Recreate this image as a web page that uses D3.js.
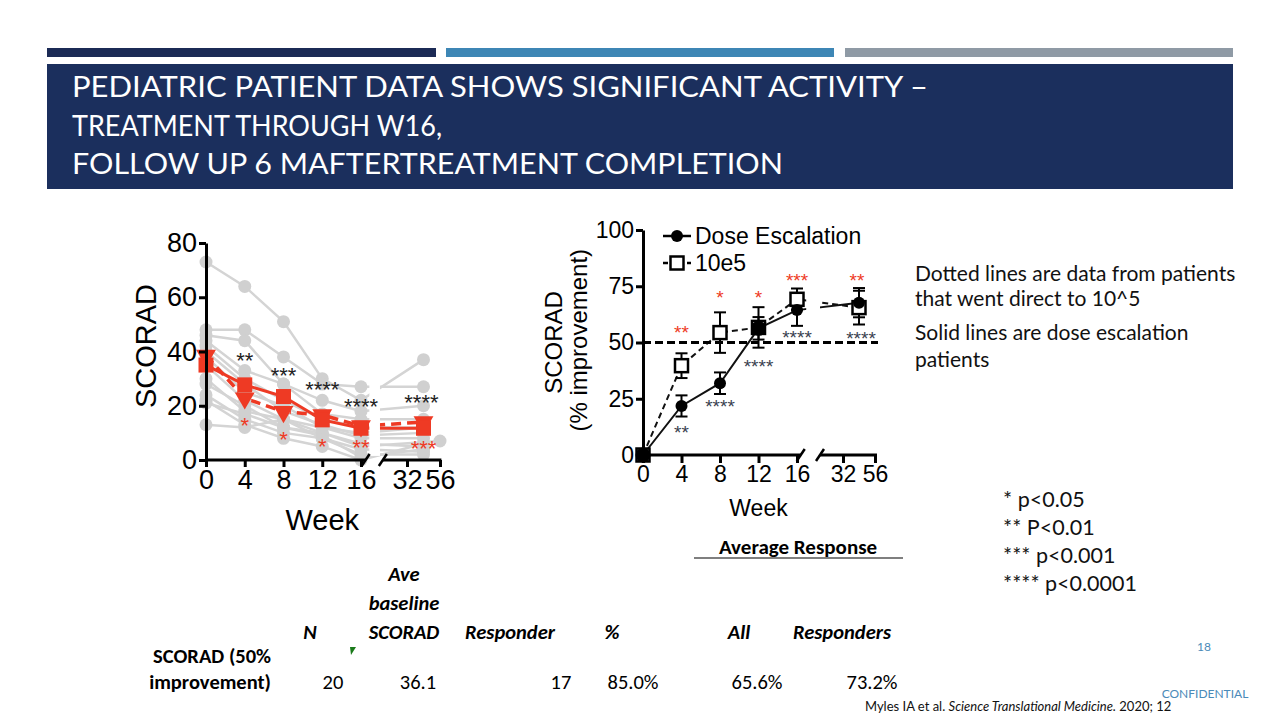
<!DOCTYPE html>
<html><head><meta charset="utf-8">
<script src="https://cdn.jsdelivr.net/npm/d3@7"></script>
<style>body{margin:0;background:#fff}svg{display:block}</style>
</head><body>
<svg id="c" width="1280" height="720"></svg>
<script>
// ---------- DATA ----------
const titleLines = ["PEDIATRIC PATIENT DATA SHOWS SIGNIFICANT ACTIVITY –","TREATMENT THROUGH W16,","FOLLOW UP 6 MAFTERTREATMENT COMPLETION"];
const weeks = [0, 4, 8, 12, 16, 44];          // 44 = follow-up position between 32 and 56
const xTicksPre = [0, 4, 8, 12, 16];
const xTicksPost = [32, 56];
const yTicksLeft = [0, 20, 40, 60, 80];
const yTicksRight = [0, 25, 50, 75, 100];

// individual patient SCORAD (grey)
const patients = [
  [73, 64, 51, 30, 22, 37],
  [48, 48, 38, 28, 27, 27],
  [46, 44, 28, 22, 18, 20],
  [44, 33, 28, 17, 15, 15],
  [42, 30, 22, 15, 12, 12],
  [40, 28, 18, 13, 9, 10],
  [38, 25, 20, 12, 8, 8],
  [35, 22, 15, 10, 6, 5],
  [30, 18, 15, 8, 4, 3],
  [28, 20, 12, 10, 5, 7],
  [24, 15, 10, 8, 2, 2],
  [22, 13, 8, 5, 0, 6],
  [21, 17, 12, 9, 1, 4],
  [13, 12, 15, 12, 10, 12]
];
const patientFollowWeek = [44, 44, 44, 44, 44, 44, 44, 44, 44, 56, 44, 44, 44, 44];
const meanDoseEsc = [35, 27.7, 23.4, 14.8, 11.7, 11.7];   // red squares, solid
const meanDirect = [38.5, 22.8, 17.8, 16.6, 12.5, 14];    // red triangles, dashed
const sigLeftBlack = ["**", "***", "****", "****", "****"];
const sigLeftBlackAt = [38.4, 32.8, 27.7, 21.4, 22.9];
const sigLeftRed = ["*", "*", "*", "**", "***"];
const sigLeftRedAt = [14.4, 9.2, 6.6, 6.3, 5.9];
const sigWeeks = [4, 8, 12, 16, 44];

// % improvement
const improveDoseEsc = [0, 21.8, 31.9, 56.3, 64.4, 67.7];
const errDoseEsc = [0, 4.7, 4.8, 5, 7, 6.5];
const improveDirect = [0, 39.7, 54.4, 56.7, 69.2, 65.5];
const errDirect = [0, 5.5, 9, 9, 4.8, 7.5];
const sigRightRed = ["**", "*", "*", "***", "**"];
const sigRightRedAt = [56.4, 72, 72, 79.6, 79.6];
const sigRightDark = ["**", "****", "****", "****", "****"];
const sigRightDarkAt = [12, 23.6, 41.3, 54.2, 53.8];
const legendNames = ["Dose Escalation", "10e5"];

const noteLines = ["Dotted lines are data from patients", "that went direct to 10^5", "Solid lines are dose escalation", "patients"];
const pLines = ["* p<0.05", "** P<0.01", "*** p<0.001", "**** p<0.0001"];

const tableHeaders = ["N", "Ave|baseline|SCORAD", "Responder", "%", "All", "Responders"];
const tableRowLabel = ["SCORAD (50%", "improvement)"];
const tableValues = ["20", "36.1", "17", "85.0%", "65.6%", "73.2%"];

// ---------- DRAW ----------
const svg = d3.select("#c");
const RED = "#ee3a24";
const ARIAL = "'Liberation Sans', Arial, sans-serif";
const GILL = "Lato, 'Open Sans', sans-serif";

// header bars
[["#1b2a55", 47, 436], ["#3d86b5", 446, 834], ["#8f9aa5", 845, 1233]].forEach(b =>
  svg.append("rect").attr("x", b[1]).attr("y", 48).attr("width", b[2] - b[1]).attr("height", 9).attr("fill", b[0]));
svg.append("rect").attr("x", 47).attr("y", 64).attr("width", 1186).attr("height", 125).attr("fill", "#1b2f5d");
const titleW = [856, 370, 711];
titleLines.forEach((t, i) => svg.append("text").attr("x", 72).attr("y", 97 + i * 38.5)
  .attr("font-family", GILL).attr("font-size", 28).attr("fill", "#fff")
  .attr("textLength", titleW[i]).attr("lengthAdjust", "spacingAndGlyphs").text(t));

// ---------- LEFT CHART ----------
const xL = d3.scaleLinear().domain([0, 16, 32, 56]).range([206, 361, 407, 440]);
const yL = d3.scaleLinear().domain([0, 80]).range([460, 243]);
const gL = svg.append("g");
const lineL = d3.line().x(d => xL(d[0])).y(d => yL(d[1]));

patients.forEach((p, i) => {
  const pts = p.map((v, j) => [j === 5 ? patientFollowWeek[i] : weeks[j], v]);
  gL.append("path").attr("d", lineL(pts)).attr("fill", "none").attr("stroke", "#d4d4d4").attr("stroke-width", 2.5);
});
const redSolidPts = meanDoseEsc.map((v, j) => [weeks[j], v]);
const redDashPts = meanDirect.map((v, j) => [weeks[j], v]);
gL.append("path").attr("d", lineL(redDashPts)).attr("fill", "none").attr("stroke", RED).attr("stroke-width", 3.5).attr("stroke-dasharray", "10,6");
gL.append("path").attr("d", lineL(redSolidPts)).attr("fill", "none").attr("stroke", RED).attr("stroke-width", 3);
// break gap
gL.append("rect").attr("x", xL(18.9)).attr("y", yL(80)).attr("width", xL(22.6) - xL(18.9)).attr("height", yL(1.5) - yL(80)).attr("fill", "#fff");

patients.forEach((p, i) => {
  p.forEach((v, j) => gL.append("circle").attr("cx", xL(j === 5 ? patientFollowWeek[i] : weeks[j])).attr("cy", yL(v)).attr("r", 6.5).attr("fill", "#d0d0d0"));
});
redDashPts.forEach(d => gL.append("path").attr("d", d3.symbol(d3.symbolTriangle, 170)())
  .attr("transform", `translate(${xL(d[0])},${yL(d[1])}) rotate(180)`).attr("fill", RED));
redSolidPts.forEach(d => gL.append("rect").attr("x", xL(d[0]) - 7.5).attr("y", yL(d[1]) - 7.5).attr("width", 15).attr("height", 15).attr("fill", RED));

// axes left
const axL = gL.append("g").attr("transform", `translate(${xL(0)},0)`)
  .call(d3.axisLeft(yL).tickValues(yTicksLeft).tickSize(7).tickSizeOuter(0).tickPadding(2));
axL.select(".domain").attr("stroke-width", 3);
axL.selectAll(".tick line").attr("stroke-width", 3);
axL.selectAll(".tick text").attr("font-family", ARIAL).attr("font-size", 27).attr("fill", "#000");
function xAxisPiece(g, sc, y, ticks, a, b, fs, tl) {
  const ax = g.append("g").attr("transform", `translate(0,${y})`).call(d3.axisBottom(sc).tickValues(ticks).tickSize(tl).tickSizeOuter(0).tickPadding(3));
  ax.select(".domain").remove();
  ax.selectAll(".tick line").attr("stroke-width", 3);
  ax.selectAll(".tick text").attr("font-family", ARIAL).attr("font-size", fs).attr("fill", "#000");
  g.append("line").attr("x1", sc(a)).attr("x2", sc(b)).attr("y1", y).attr("y2", y).attr("stroke", "#000").attr("stroke-width", 3);
}
xAxisPiece(gL, xL, yL(0), xTicksPre, 0, 17.6, 27, 7);
xAxisPiece(gL, xL, yL(0), xTicksPost, 23.6, 57, 27, 7);
[[17.6], [23.6]].forEach(b => gL.append("line").attr("x1", xL(b[0]) - 4).attr("x2", xL(b[0]) + 4)
  .attr("y1", yL(0) + 6).attr("y2", yL(0) - 6).attr("stroke", "#000").attr("stroke-width", 2.5));
svg.append("text").attr("transform", `translate(${156},${yL(42)}) rotate(-90)`).attr("text-anchor", "middle")
  .attr("font-family", ARIAL).attr("font-size", 29).text("SCORAD");
svg.append("text").attr("x", xL(12)).attr("y", 530).attr("text-anchor", "middle").attr("font-family", ARIAL).attr("font-size", 29).text("Week");
sigLeftBlack.forEach((s, i) => gL.append("text").attr("x", xL(sigWeeks[i] === 44 ? 42.5 : sigWeeks[i])).attr("y", yL(sigLeftBlackAt[i]) + 12)
  .attr("text-anchor", "middle").attr("font-family", ARIAL).attr("font-size", 22).attr("fill", "#222").text(s));
sigLeftRed.forEach((s, i) => gL.append("text").attr("x", xL(sigWeeks[i])).attr("y", yL(sigLeftRedAt[i]) + 12)
  .attr("text-anchor", "middle").attr("font-family", ARIAL).attr("font-size", 22).attr("fill", RED).text(s));

// ---------- RIGHT CHART ----------
const xR = d3.scaleLinear().domain([0, 16, 32, 56]).range([643, 797, 843, 875]);
const yR = d3.scaleLinear().domain([0, 100]).range([455, 230]);
const gR = svg.append("g");
const lineR = d3.line().x(d => xR(d[0])).y(d => yR(d[1]));
const dePts = improveDoseEsc.map((v, j) => [weeks[j], v, errDoseEsc[j]]);
const e5Pts = improveDirect.map((v, j) => [weeks[j], v, errDirect[j]]);
gR.append("path").attr("d", lineR(e5Pts)).attr("fill", "none").attr("stroke", "#111").attr("stroke-width", 2).attr("stroke-dasharray", "6,4");
gR.append("path").attr("d", lineR(dePts)).attr("fill", "none").attr("stroke", "#111").attr("stroke-width", 2);
gR.append("rect").attr("x", xR(19.2)).attr("y", yR(100)).attr("width", xR(24) - xR(19.2)).attr("height", yR(2) - yR(100)).attr("fill", "#fff");
gR.append("line").attr("x1", xR(0)).attr("x2", xR(56) + 3).attr("y1", yR(50)).attr("y2", yR(50))
  .attr("stroke", "#000").attr("stroke-width", 3).attr("stroke-dasharray", "8,4");
[e5Pts, dePts].forEach(ps => ps.forEach(d => {
  if (!d[2]) return;
  const x = xR(d[0]);
  gR.append("line").attr("x1", x).attr("x2", x).attr("y1", yR(d[1] - d[2])).attr("y2", yR(d[1] + d[2])).attr("stroke", "#000").attr("stroke-width", 2);
  [d[1] - d[2], d[1] + d[2]].forEach(v => gR.append("line").attr("x1", x - 6).attr("x2", x + 6).attr("y1", yR(v)).attr("y2", yR(v)).attr("stroke", "#000").attr("stroke-width", 2));
}));
e5Pts.forEach(d => gR.append("rect").attr("x", xR(d[0]) - 6.5).attr("y", yR(d[1]) - 6.5).attr("width", 13).attr("height", 13)
  .attr("fill", "#fff").attr("stroke", "#000").attr("stroke-width", 2.5));
dePts.forEach(d => gR.append("circle").attr("cx", xR(d[0])).attr("cy", yR(d[1])).attr("r", d[0] === 0 || d[0] === 12 ? 7.5 : 6).attr("fill", "#000"));

const axR = gR.append("g").attr("transform", `translate(${xR(0)},0)`)
  .call(d3.axisLeft(yR).tickValues(yTicksRight).tickSize(7).tickSizeOuter(0).tickPadding(2));
axR.select(".domain").attr("stroke-width", 3);
axR.selectAll(".tick line").attr("stroke-width", 3);
axR.selectAll(".tick text").attr("font-family", ARIAL).attr("font-size", 23).attr("fill", "#000");
xAxisPiece(gR, xR, yR(0), xTicksPre, 0, 17.3, 23, 8);
xAxisPiece(gR, xR, yR(0), xTicksPost, 24, 57.5, 23, 8);
[[17.3], [24]].forEach(b => gR.append("line").attr("x1", xR(b[0]) - 4).attr("x2", xR(b[0]) + 4)
  .attr("y1", yR(0) + 6).attr("y2", yR(0) - 6).attr("stroke", "#000").attr("stroke-width", 2.5));
svg.append("text").attr("transform", `translate(${562},${yR(50)}) rotate(-90)`).attr("text-anchor", "middle")
  .attr("font-family", ARIAL).attr("font-size", 24).text("SCORAD");
svg.append("text").attr("transform", `translate(${587},${yR(51)}) rotate(-90)`).attr("text-anchor", "middle")
  .attr("font-family", ARIAL).attr("font-size", 24).text("(% improvement)");
svg.append("text").attr("x", xR(12)).attr("y", 516).attr("text-anchor", "middle").attr("font-family", ARIAL).attr("font-size", 23).text("Week");
sigRightRed.forEach((s, i) => gR.append("text").attr("x", xR(sigWeeks[i] === 44 ? 42.5 : sigWeeks[i])).attr("y", yR(sigRightRedAt[i]) + 11)
  .attr("text-anchor", "middle").attr("font-family", ARIAL).attr("font-size", 19).attr("fill", RED).text(s));
sigRightDark.forEach((s, i) => gR.append("text").attr("x", xR(sigWeeks[i] === 44 ? 45.5 : sigWeeks[i])).attr("y", yR(sigRightDarkAt[i]) + 11)
  .attr("text-anchor", "middle").attr("font-family", ARIAL).attr("font-size", 19).attr("fill", "#3a3f4f").text(s));
// legend
legendNames.forEach((n, i) => {
  const y = 236 + i * 27;
  gR.append("line").attr("x1", 663).attr("x2", 691).attr("y1", y).attr("y2", y).attr("stroke", "#000").attr("stroke-width", 2.5)
    .attr("stroke-dasharray", i ? "5,3" : null);
  if (i === 0) gR.append("circle").attr("cx", 677).attr("cy", y).attr("r", 6).attr("fill", "#000");
  else gR.append("rect").attr("x", 670.5).attr("y", y - 6.5).attr("width", 13).attr("height", 13).attr("fill", "#fff").attr("stroke", "#000").attr("stroke-width", 2.5);
  gR.append("text").attr("x", 695).attr("y", y + 8).attr("font-family", ARIAL).attr("font-size", 23).text(n);
});

// ---------- NOTES ----------
const noteY = [281, 306, 340, 367];
noteLines.forEach((t, i) => svg.append("text").attr("x", 915).attr("y", noteY[i]).attr("font-family", GILL).attr("font-size", 21).attr("fill", "#111").text(t));
pLines.forEach((t, i) => svg.append("text").attr("x", 1003).attr("y", 507 + i * 28).attr("font-family", GILL).attr("font-size", 21.5).attr("fill", "#111").text(t));

// ---------- TABLE ----------
const TF = "Carlito, Lato, sans-serif";
svg.append("text").attr("x", 798).attr("y", 554).attr("text-anchor", "middle").attr("font-family", TF).attr("font-weight", 700).attr("font-size", 21).text("Average Response");
svg.append("line").attr("x1", 694).attr("x2", 903).attr("y1", 558).attr("y2", 558).attr("stroke", "#000").attr("stroke-width", 1.2);
const headX = [310, 404, 510, 612, 739, 842];
tableHeaders.forEach((h, i) => {
  const parts = h.split("|");
  parts.forEach((p, k) => svg.append("text").attr("x", headX[i]).attr("y", 639 - (parts.length - 1 - k) * 29)
    .attr("text-anchor", "middle").attr("font-family", TF).attr("font-style", "italic").attr("font-weight", 700).attr("font-size", 20.5).text(p));
});
tableRowLabel.forEach((t, i) => svg.append("text").attr("x", 271).attr("y", 663 + i * 26).attr("text-anchor", "end")
  .attr("font-family", TF).attr("font-weight", 700).attr("font-size", 20.5).text(t));
const valX = [333, 418, 561, 633, 757, 872];
tableValues.forEach((v, i) => svg.append("text").attr("x", valX[i]).attr("y", 689).attr("text-anchor", "middle")
  .attr("font-family", TF).attr("font-size", 20.5).text(v));
svg.append("path").attr("d", "M350,647 L356,647 L351,655 Z").attr("fill", "#1a7a1a");

// footer
svg.append("text").attr("x", 1204).attr("y", 651).attr("text-anchor", "middle").attr("font-family", GILL).attr("font-size", 12).attr("fill", "#4a8ab8").text("18");
svg.append("text").attr("x", 1205).attr("y", 698).attr("text-anchor", "middle").attr("font-family", GILL).attr("font-size", 12).attr("fill", "#4a8ab8").text("CONFIDENTIAL");
const cite = svg.append("text").attr("x", 865).attr("y", 711).attr("font-family", GILL).attr("font-size", 13).attr("fill", "#111");
cite.append("tspan").text("Myles IA et al. ");
cite.append("tspan").attr("font-style", "italic").text("Science Translational Medicine.");
cite.append("tspan").text(" 2020; 12");
</script>
</body></html>
